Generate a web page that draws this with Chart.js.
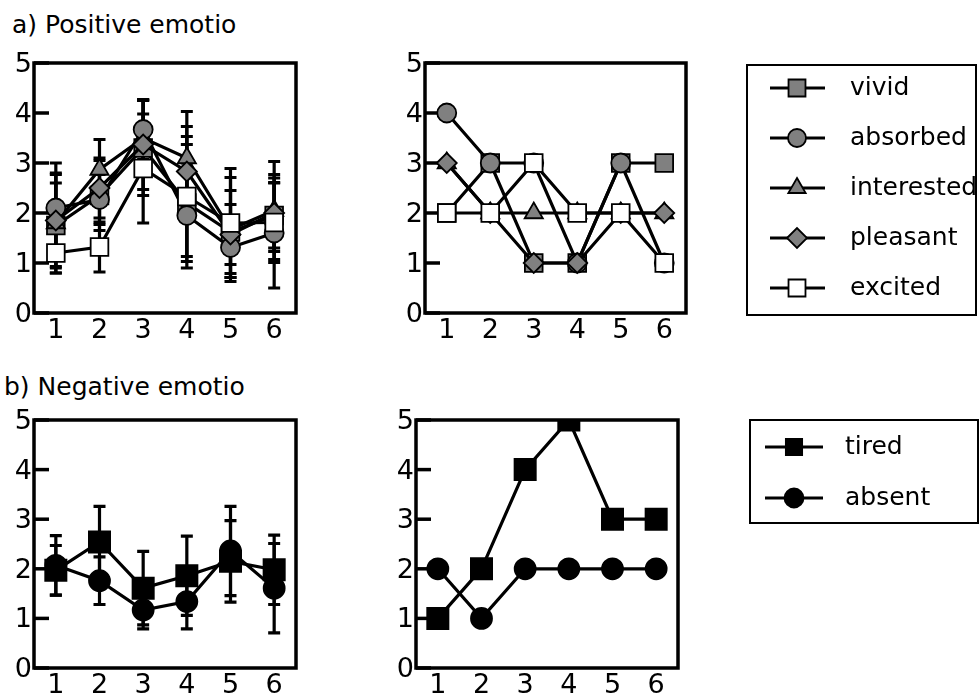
<!DOCTYPE html>
<html><head><meta charset="utf-8">
<script src="https://cdn.jsdelivr.net/npm/chart.js@4/dist/chart.umd.min.js"></script>
<style>
html,body{margin:0;padding:0;background:#fff;width:979px;height:694px;overflow:hidden;}
canvas{position:absolute;}
.title{position:absolute;font-family:"DejaVu Sans";font-size:25px;line-height:29px;color:#000;white-space:nowrap;}
</style></head><body>
<div class="title" style="left:12px;top:10px;">a) Positive emotio</div>
<div class="title" style="left:4px;top:372px;">b) Negative emotio</div>
<canvas id="tl" width="300" height="310" style="left:0;top:40px;"></canvas>
<canvas id="tr" width="589" height="310" style="left:390px;top:40px;"></canvas>
<canvas id="bl" width="300" height="297" style="left:0;top:397px;"></canvas>
<canvas id="br" width="598" height="297" style="left:381px;top:397px;"></canvas>
<script>
// ---- data ----
const categories = ['1','2','3','4','5','6'];
const yTicks = [0,1,2,3,4,5];
const posLabels = ['vivid','absorbed','interested','pleasant','excited'];
const negLabels = ['tired','absent'];

// a) group means and SDs
const vividMean      = [1.75, 2.35, 3.30, 2.20, 1.62, 1.95];
const vividSD        = [0.85, 0.70, 0.95, 1.17, 0.83, 0.65];
const absorbedMean   = [2.10, 2.27, 3.67, 1.95, 1.31, 1.60];
const absorbedSD     = [0.90, 0.50, 0.60, 1.05, 0.60, 1.10];
const interestedMean = [1.80, 2.87, 3.50, 3.10, 1.67, 2.05];
const interestedSD   = [1.00, 0.60, 0.75, 0.93, 1.04, 0.98];
const pleasantMean   = [1.85, 2.50, 3.37, 2.83, 1.57, 2.00];
const pleasantSD     = [0.92, 0.60, 0.90, 0.90, 0.60, 0.77];
const excitedMean    = [1.20, 1.32, 2.89, 2.33, 1.80, 1.81];
const excitedSD      = [0.40, 0.50, 1.09, 1.20, 1.09, 0.80];

// a) individual
const vividInd      = [2, 3, 1, 1, 3, 3];
const absorbedInd   = [4, 3, 3, 1, 3, 1];
const interestedInd = [3, 2, 2, 2, 2, 2];
const pleasantInd   = [3, 2, 1, 1, 2, 2];
const excitedInd    = [2, 2, 3, 2, 2, 1];

// b) group means and SDs
const tiredMean  = [1.97, 2.54, 1.61, 1.86, 2.15, 1.98];
const tiredSD    = [0.50, 0.72, 0.74, 0.80, 0.82, 0.70];
const absentMean = [2.07, 1.76, 1.17, 1.34, 2.36, 1.61];
const absentSD   = [0.60, 0.48, 0.38, 0.55, 0.90, 0.90];

// b) individual
const tiredInd  = [1, 2, 4, 5, 3, 3];
const absentInd = [2, 1, 2, 2, 2, 2];

// ---- styling ----
Chart.defaults.font.family = 'DejaVu Sans';
const FONT = {family:'DejaVu Sans', size:27};
const GREY = '#808080';

const posStyles = [
  {pointStyle:'rect',     radius:12.5, fill:GREY,   order:4},
  {pointStyle:'circle',   radius:9.5,  fill:GREY,   order:2},
  {pointStyle:'triangle', radius:10.5, fill:GREY,   order:3},
  {pointStyle:'rectRot',  radius:10,   fill:GREY,   order:1},
  {pointStyle:'rect',     radius:12.5, fill:'#fff', order:0}
];
const negStyles = [
  {pointStyle:'rect',   radius:15, fill:'#000', order:1},
  {pointStyle:'circle', radius:10.5, fill:'#000', order:0}
];

function makeDatasets(labels, styles, values, sds){
  return labels.map((lab,i)=>({
    label: lab,
    data: values[i],
    sd: sds ? sds[i] : null,
    order: styles[i].order,
    borderColor:'#000', borderWidth:3.2,
    pointStyle: styles[i].pointStyle,
    pointRadius: styles[i].radius,
    pointBackgroundColor: styles[i].fill,
    pointBorderColor:'#000',
    pointBorderWidth: 1.8,
    tension:0, fill:false
  }));
}

const framePlugin = {
  id:'frame',
  beforeDatasetsDraw(chart){
    const {ctx, chartArea:a, scales:{x,y}} = chart;
    ctx.save();
    ctx.strokeStyle='#000'; ctx.lineWidth=3.2; ctx.lineCap='butt';
    // error bars
    chart.data.datasets.forEach(ds=>{
      if(!ds.sd) return;
      ds.data.forEach((v,i)=>{
        const px = x.getPixelForValue(i);
        const t = y.getPixelForValue(v+ds.sd[i]);
        const b = y.getPixelForValue(v-ds.sd[i]);
        ctx.beginPath();
        ctx.moveTo(px,t); ctx.lineTo(px,b);
        ctx.moveTo(px-6,t); ctx.lineTo(px+6,t);
        ctx.moveTo(px-6,b); ctx.lineTo(px+6,b);
        ctx.stroke();
      });
    });
    // frame
    ctx.lineWidth=3.5;
    ctx.strokeRect(a.left, a.top, a.right-a.left, a.bottom-a.top);
    // inward y ticks
    y.ticks.forEach(tk=>{
      const py = y.getPixelForValue(tk.value);
      ctx.beginPath(); ctx.moveTo(a.left,py); ctx.lineTo(a.left+15,py); ctx.stroke();
    });
    ctx.restore();
  }
};

const legendPlugin = {
  id:'boxLegend',
  afterDraw(chart, args, opts){
    if(!opts || !opts.box) return;
    const ctx = chart.ctx;
    ctx.save();
    ctx.strokeStyle='#000'; ctx.lineWidth=2;
    const b = opts.box;
    ctx.strokeRect(b[0], b[1], b[2]-b[0], b[3]-b[1]);
    chart.data.datasets.forEach((ds,i)=>{
      const yy = opts.y0 + i*opts.dy;
      ctx.strokeStyle='#000'; ctx.lineWidth=3;
      ctx.beginPath(); ctx.moveTo(opts.x1,yy); ctx.lineTo(opts.x2,yy); ctx.stroke();
      ctx.fillStyle = ds.pointBackgroundColor;
      ctx.strokeStyle='#000'; ctx.lineWidth=1.8;
      Chart.helpers.drawPoint(ctx, {pointStyle:ds.pointStyle, radius:opts.radius[i], rotation:0, borderWidth:1.8}, opts.xm, yy);
      ctx.fillStyle='#000';
      ctx.font = '25px "DejaVu Sans"';
      ctx.textBaseline='middle'; ctx.textAlign='left';
      ctx.fillText(ds.label, opts.xt, yy);
    });
    ctx.restore();
  }
};

function makeChart(id, datasets, padRight, yWidth, xHeight, legendOpts){
  return new Chart(document.getElementById(id), {
    type:'line',
    data:{labels:categories, datasets},
    plugins:[framePlugin, legendPlugin],
    options:{
      responsive:false, animation:false, devicePixelRatio:1,
      layout:{autoPadding:false, padding:{top:23, right:padRight, left:0, bottom:0}},
      plugins:{legend:{display:false}, tooltip:{enabled:false}, boxLegend: legendOpts || {}},
      scales:{
        x:{type:'category', offset:true,
           grid:{display:false, drawTicks:false}, border:{display:false},
           ticks:{font:FONT, color:'#000', padding:2, maxRotation:0, autoSkip:false},
           afterFit(s){ s.height = xHeight; s.paddingLeft = 0; s.paddingRight = 0; }},
        y:{min:0, max:5,
           afterBuildTicks(s){ s.ticks = yTicks.map(v=>({value:v})); },
           grid:{display:false, drawTicks:false}, border:{display:false},
           ticks:{font:FONT, color:'#000', padding:2, labelOffset:2},
           afterFit(s){ s.width = yWidth; s.paddingTop = 0; s.paddingBottom = 0; }}
      }
    }
  });
}

makeChart('tl', makeDatasets(posLabels, posStyles,
  [vividMean, absorbedMean, interestedMean, pleasantMean, excitedMean],
  [vividSD, absorbedSD, interestedSD, pleasantSD, excitedSD]), 4, 34, 37);

makeChart('tr', makeDatasets(posLabels, posStyles,
  [vividInd, absorbedInd, interestedInd, pleasantInd, excitedInd], null), 293, 35, 37,
  {box:[357,25,586,275], x1:380, x2:435, xm:407, xt:460, y0:48, dy:50, radius:[12,9,10,10,12]});

makeChart('bl', makeDatasets(negLabels, negStyles,
  [tiredMean, absentMean], [tiredSD, absentSD]), 4, 34, 26);

makeChart('br', makeDatasets(negLabels, negStyles,
  [tiredInd, absentInd], null), 301, 35, 26,
  {box:[369,23,597,126], x1:384, x2:442, xm:413, xt:464, y0:50, dy:51, radius:[11.5,9.5]});
</script>
</body></html>
